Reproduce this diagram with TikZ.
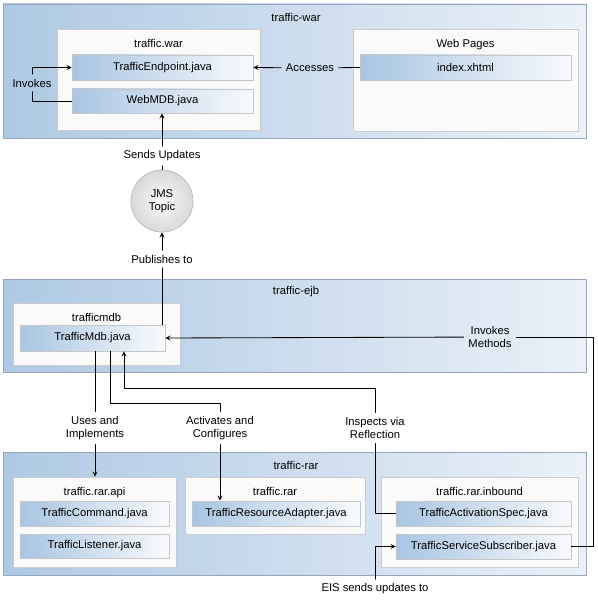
\documentclass[tikz,border=0pt]{standalone}
\usepackage{fontspec}
\setmainfont{Liberation Sans}
\usetikzlibrary{fit,shadows}
\definecolor{fileblue}{RGB}{168,197,226}
\definecolor{modblue}{RGB}{174,201,228}
\definecolor{modlight}{RGB}{234,241,248}
\definecolor{modedge}{RGB}{150,166,186}
\tikzset{
	module/.style={draw=modedge,line width=0.5pt,left color=modblue,right color=modlight,inner sep=0pt,
		drop shadow={shadow xshift=0.4pt,shadow yshift=-0.7pt,fill=gray!80,opacity=0.7}},
	pkg/.style={draw=gray!40,line width=0.5pt,fill=gray!4,inner sep=0pt,
		drop shadow={shadow xshift=0.6pt,shadow yshift=-0.7pt,fill=gray!75,opacity=0.8}},
	file/.style={draw=gray!45,line width=0.5pt,left color=fileblue,middle color=fileblue!85!white,
		right color=fileblue!8!white,inner sep=0pt},
	title/.style={inner sep=1pt},
	lbl/.style={align=center,inner sep=3pt},
	topic/.style={circle,draw=gray!55,line width=0.5pt,inner color=gray!5,outer color=gray!30,
		minimum size=1.55cm,align=center,inner sep=0pt}
}
\begin{document}
\begin{tikzpicture}[x=0.025cm,y=-0.025cm,font=\fontsize{8}{9.6}\selectfont,line join=round,line cap=round,>=stealth,line width=0.6pt]
	\useasboundingbox (0,0) rectangle (597,602);
	% modules
	\node[module,fit={(3,4) (586,138)}] (war) {};
	\node[module,fit={(3,279) (586,372)}] (ejb) {};
	\node[module,fit={(3,452) (586,575)}] (rar) {};
	\node[title] (warT) at (296,17) {traffic-war};
	\node[title] (ejbT) at (296,292) {traffic-ejb};
	\node[title] (rarT) at (296,465) {traffic-rar};
	% packages
	\foreach \n/\xa/\ya/\xb/\yb/\t in
	{warpkg/57/29/260/130/traffic.war, pages/353/29/578/131/Web Pages,
		mdbpkg/13/303/180/365/trafficmdb, api/13/477/176/567/traffic.rar.api,
		rarpkg/185/477/365/534/traffic.rar, inbound/381/477/578/567/traffic.rar.inbound}
	{\node[pkg,fit={(\xa,\ya) (\xb,\yb)}] (\n) {};
		\node[title,below=6pt] (\n T) at (\n.north) {\t};}
	% files
	\foreach \n/\xa/\ya/\xb/\yb/\t in
	{endpoint/72/55/253/80/TrafficEndpoint.java, webmdb/72/89/253/113/WebMDB.java,
		index/360/55/571/80/index.xhtml, mdb/20/325/165/351/TrafficMdb.java,
		command/20/501/169/526/TrafficCommand.java, listener/20/534/169/558/TrafficListener.java,
		adapter/192/501/360/526/TrafficResourceAdapter.java,
		spec/396/501/571/526/TrafficActivationSpec.java,
		subscriber/396/534/571/559/TrafficServiceSubscriber.java}
	\node[file,fit={(\xa,\ya) (\xb,\yb)},label={center:\t}] (\n) {};
	\node[topic] (jms) at (162,201) {JMS\\Topic};
	% labels
	\node[lbl] (acc) at (310,68) {Accesses};
	\node[lbl] (inv) at (32,83) {Invokes};
	\node[lbl] (sends) at (162,156) {Sends Updates};
	\node[lbl] (pub) at (162,259) {Publishes to};
	\node[lbl] (invm) at (490,337) {Invokes\\Methods};
	\node[lbl] (uses) at (95,428) {Uses and\\Implements};
	\node[lbl] (act) at (220,428) {Activates and\\Configures};
	\node[lbl] (insp) at (375,428) {Inspects via\\Reflection};
	\node[lbl] (eis) at (375,589) {EIS sends updates to};
	\path
	(110,403) coordinate (A)
	(124,388) coordinate (B)
	(593,0) coordinate (C)
	;
	% connectors
	\draw (index.west) -- (acc);
	\draw[->] (acc) -- (endpoint.east);
	\draw (webmdb.west) -| (inv.south);
	\draw[->] (inv.north) |- (endpoint.west);
	\draw (jms) -- (sends);
	\draw[->] (sends) -- (webmdb.south -| sends);
	\draw (mdb.north -| pub) -- (pub);
	\draw[->] (pub) -- (jms);
	\draw (subscriber.east) -- (subscriber.east -| C) |- (invm);
	\draw[->] (invm) -- (mdb.east);
	\draw (mdb.south -| uses) -- (uses);
	\draw[->] (uses) -- (api.north -| uses);
	\draw (mdb.south -| A) -- (A) -| (act);
	\draw[->] (act) -- (adapter.north -| act);
	\draw (spec.west) -| (insp);
	\draw[->] (insp) |- (B) -- (mdb.south -| B);
	\draw[->] (eis) |- (subscriber.west);
\end{tikzpicture}
\end{document}
